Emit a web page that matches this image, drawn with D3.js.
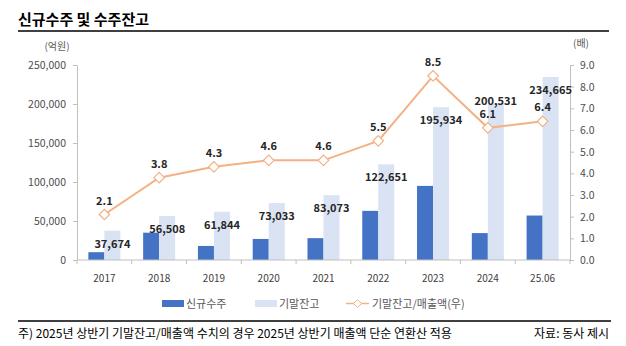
<!DOCTYPE html>
<html>
<head>
<meta charset="utf-8">
<script src="https://cdn.jsdelivr.net/npm/d3@7"></script>
<style>
  body { margin: 0; background: #fff; }
  svg { display: block; font-family: "Noto Sans CJK KR", "Noto Sans", sans-serif; }
</style>
</head>
<body>
<script>
// chart values
const categories = ["2017", "2018", "2019", "2020", "2021", "2022", "2023", "2024", "25.06"];
const newOrders = [10000, 35000, 18000, 27000, 28000, 63000, 95000, 34500, 57000];
const backlog = [37674, 56508, 61844, 73033, 83073, 122651, 195934, 200531, 234665];
const ratio = [2.1, 3.8, 4.3, 4.6, 4.6, 5.5, 8.5, 6.1, 6.4];
const leftTicks = [0, 50000, 100000, 150000, 200000, 250000];
const rightTicks = [0, 1, 2, 3, 4, 5, 6, 7, 8, 9];

const W = 626, H = 346;
const m = { left: 77, right: 570, top: 65, bottom: 260 };
const C_NEW = "#4472c4", C_BACK = "#dae3f3", C_LINE = "#f4b183";
const C_AXIS = "#bfbfbf", C_TXT = "#595959";

const svg = d3.select("body").append("svg").attr("width", W).attr("height", H);

// title
svg.append("text").attr("x", 18).attr("y", 25)
  .attr("font-size", 15).attr("font-weight", "bold").attr("fill", "#000")
  .text("신규수주 및 수주잔고");
svg.append("line").attr("x1", 18).attr("x2", 609).attr("y1", 31).attr("y2", 31)
  .attr("stroke", "#000").attr("stroke-width", 1.5);

const x = d3.scaleBand().domain(categories).range([m.left, m.right]);
const xs = d3.scaleBand().domain(["new", "back"]).range([0, x.bandwidth()]).paddingOuter(0.71);
const yL = d3.scaleLinear().domain([0, 250000]).range([m.bottom, m.top]);
const yR = d3.scaleLinear().domain([0, 9]).range([m.bottom, m.top]);

// left axis
const gL = svg.append("g").attr("transform", `translate(${m.left},0)`)
  .call(d3.axisLeft(yL).tickValues(leftTicks).tickSize(4).tickSizeOuter(0).tickPadding(7)
    .tickFormat(d3.format(",")));
// right axis
const gR = svg.append("g").attr("transform", `translate(${m.right},0)`)
  .call(d3.axisRight(yR).tickValues(rightTicks).tickSize(4).tickSizeOuter(0).tickPadding(6)
    .tickFormat(d3.format(".1f")));
[gL, gR].forEach(g => {
  g.selectAll("path, line").attr("stroke", C_AXIS);
  g.selectAll("text").attr("fill", "#4d4d4d").attr("font-size", 10.5).attr("font-family", "Noto Sans CJK KR");
});

// unit labels
svg.append("text").attr("x", 57).attr("y", 50).attr("text-anchor", "middle")
  .attr("font-size", 10).attr("fill", C_TXT).text("(억원)");
svg.append("text").attr("x", 581).attr("y", 47).attr("text-anchor", "middle")
  .attr("font-size", 10).attr("fill", C_TXT).text("(배)");

// bars
const cat = svg.append("g").selectAll("g").data(categories).join("g")
  .attr("transform", d => `translate(${x(d)},0)`);
cat.append("rect")
  .attr("x", xs("new")).attr("width", xs.bandwidth())
  .attr("y", (d, i) => yL(newOrders[i])).attr("height", (d, i) => m.bottom - yL(newOrders[i]))
  .attr("fill", C_NEW);
cat.append("rect")
  .attr("x", xs("back")).attr("width", xs.bandwidth())
  .attr("y", (d, i) => yL(backlog[i])).attr("height", (d, i) => m.bottom - yL(backlog[i]))
  .attr("fill", C_BACK);

// x axis
svg.append("line").attr("x1", m.left).attr("x2", m.right).attr("y1", m.bottom).attr("y2", m.bottom)
  .attr("stroke", C_AXIS);
svg.append("g").selectAll("line").data(categories.concat(["end"])).join("line")
  .attr("x1", (d, i) => i < categories.length ? x(d) : m.right)
  .attr("x2", (d, i) => i < categories.length ? x(d) : m.right)
  .attr("y1", m.bottom).attr("y2", m.bottom + 4).attr("stroke", C_AXIS);
svg.append("g").selectAll("text").data(categories).join("text")
  .attr("x", d => x(d) + x.bandwidth() / 2).attr("y", 282)
  .attr("text-anchor", "middle").attr("font-size", 10).attr("fill", "#404040")
  .text(d => d);

// ratio line
const cx = d => x(d) + x.bandwidth() / 2;
svg.append("path").datum(categories)
  .attr("d", d3.line().x(cx).y((d, i) => yR(ratio[i])))
  .attr("fill", "none").attr("stroke", C_LINE).attr("stroke-width", 2);
const diamond = d3.symbol().type(d3.symbolDiamond2).size(70);
svg.append("g").selectAll("path").data(categories).join("path")
  .attr("transform", (d, i) => `translate(${cx(d)},${yR(ratio[i])})`)
  .attr("d", diamond).attr("fill", "#fff").attr("stroke", C_LINE).attr("stroke-width", 1.2);

// labels
const ratioLabelY = i => yR(ratio[i]) - 14;
const backLabelY = i => {
  const y = yL(backlog[i]) + 13;
  return Math.abs(y - ratioLabelY(i)) < 13 ? ratioLabelY(i) - 13 : y;
};
svg.append("g").selectAll("text").data(categories).join("text")
  .attr("x", cx).attr("y", (d, i) => ratioLabelY(i) + 4)
  .attr("text-anchor", "middle").attr("font-size", 11).attr("font-weight", "bold").attr("fill", "#262626")
  .text((d, i) => ratio[i].toFixed(1));
svg.append("g").selectAll("text").data(categories).join("text")
  .attr("x", d => x(d) + xs("back") + xs.bandwidth() / 2)
  .attr("y", (d, i) => backLabelY(i) + 4)
  .attr("text-anchor", "middle").attr("font-size", 11).attr("font-weight", "bold").attr("fill", "#262626")
  .text((d, i) => d3.format(",")(backlog[i]));

// legend
const lg = svg.append("g").attr("font-size", 11).attr("fill", C_TXT);
lg.append("rect").attr("x", 162).attr("y", 300).attr("width", 22).attr("height", 7).attr("fill", C_NEW);
lg.append("text").attr("x", 186).attr("y", 308).text("신규수주");
lg.append("rect").attr("x", 255).attr("y", 300).attr("width", 22).attr("height", 7).attr("fill", C_BACK);
lg.append("text").attr("x", 279).attr("y", 308).text("기말잔고");
lg.append("line").attr("x1", 346).attr("x2", 369).attr("y1", 303.5).attr("y2", 303.5)
  .attr("stroke", C_LINE).attr("stroke-width", 1.5);
lg.append("path").attr("transform", "translate(357.5,303.5)").attr("d", d3.symbol().type(d3.symbolDiamond2).size(40))
  .attr("fill", "#fff").attr("stroke", C_LINE);
lg.append("text").attr("x", 372).attr("y", 308).text("기말잔고/매출액(우)");

// footer
svg.append("line").attr("x1", 18).attr("x2", 611).attr("y1", 321).attr("y2", 321)
  .attr("stroke", "#000").attr("stroke-width", 1.5);
svg.append("text").attr("x", 18).attr("y", 338).attr("font-size", 12).attr("fill", "#000")
  .text("주) 2025년 상반기 기말잔고/매출액 수치의 경우 2025년 상반기 매출액 단순 연환산 적용");
svg.append("text").attr("x", 609).attr("y", 338).attr("text-anchor", "end").attr("font-size", 12).attr("fill", "#000")
  .text("자료: 동사 제시");
</script>
</body>
</html>
